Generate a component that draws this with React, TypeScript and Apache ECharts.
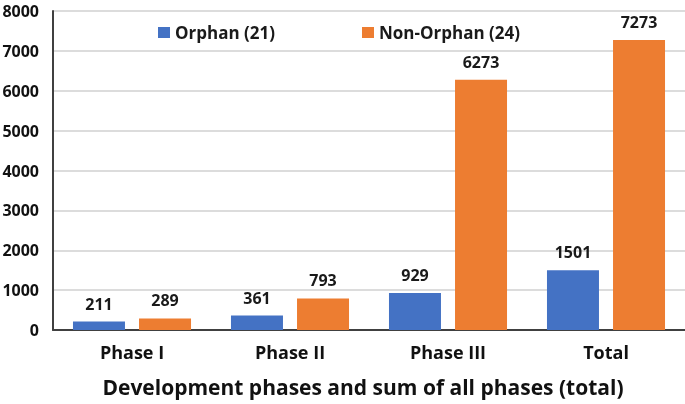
import React, { useEffect, useRef } from "react";
import * as echarts from "echarts";

const categories = ["Phase I", "Phase II", "Phase III", "Total"];
const orphan = [211, 361, 929, 1501];
const nonOrphan = [289, 793, 6273, 7273];
const seriesNames = ["Orphan (21)", "Non-Orphan (24)"];
const xAxisTitle = "Development phases and sum of all phases (total)";

const FONT = "'Open Sans', 'Noto Sans', sans-serif";

export default function App() {
  const ref = useRef<HTMLDivElement>(null);
  useEffect(() => {
    const chart = echarts.init(ref.current!, null, { renderer: "svg" });
    const legendText = { fontFamily: FONT, fontWeight: "bold", fontSize: 17, color: "#1a1a1a" };
    const labelStyle = {
      show: true,
      position: "top",
      distance: 10,
      fontFamily: FONT,
      fontWeight: "bold",
      fontSize: 16,
      color: "#1a1a1a",
    };
    chart.setOption({
      animation: false,
      textStyle: { fontFamily: FONT },
      grid: {
        left: 53,
        right: 0,
        top: 11,
        bottom: 74,
        containLabel: false,
        outerBoundsMode: "none",
      },
      legend: [
        {
          data: [seriesNames[0]],
          left: 158,
          top: 24,
          padding: 0,
          itemWidth: 12,
          itemHeight: 11,
          icon: "rect",
          textStyle: legendText,
        },
        {
          data: [seriesNames[1]],
          left: 362,
          top: 24,
          padding: 0,
          itemWidth: 12,
          itemHeight: 11,
          icon: "rect",
          textStyle: legendText,
        },
      ],
      xAxis: {
        type: "category",
        data: categories,
        axisLine: { lineStyle: { color: "#404040", width: 2 } },
        axisTick: { show: false },
        axisLabel: {
          fontFamily: FONT,
          fontWeight: "bold",
          fontSize: 18,
          color: "#111",
          margin: 13,
        },
        name: xAxisTitle,
        nameLocation: "middle",
        nameGap: 46,
        nameTextStyle: {
          fontFamily: FONT,
          fontWeight: "bold",
          fontSize: 21,
          color: "#111",
          padding: [0, 12, 0, 0],
        },
      },
      yAxis: {
        type: "value",
        min: 0,
        max: 8000,
        interval: 1000,
        axisLine: { show: true, lineStyle: { color: "#404040", width: 2 } },
        axisTick: { show: false },
        splitLine: { lineStyle: { color: "#d0d0d0", width: 1.5 } },
        axisLabel: {
          fontFamily: FONT,
          fontWeight: "bold",
          fontSize: 16,
          color: "#111",
          margin: 14,
          formatter: (v: number) => String(v),
        },
      },
      series: [
        {
          name: seriesNames[0],
          type: "bar",
          data: orphan,
          barWidth: 52,
          barGap: "27%",
          itemStyle: { color: "#4472C4" },
          label: labelStyle,
        },
        {
          name: seriesNames[1],
          type: "bar",
          data: nonOrphan,
          barWidth: 52,
          barGap: "27%",
          itemStyle: { color: "#ED7D31" },
          label: labelStyle,
        },
      ],
    });
    return () => chart.dispose();
  }, []);
  return (
    <div
      ref={ref}
      style={{ position: "fixed", left: 0, top: 0, width: 685, height: 404 }}
    />
  );
}
